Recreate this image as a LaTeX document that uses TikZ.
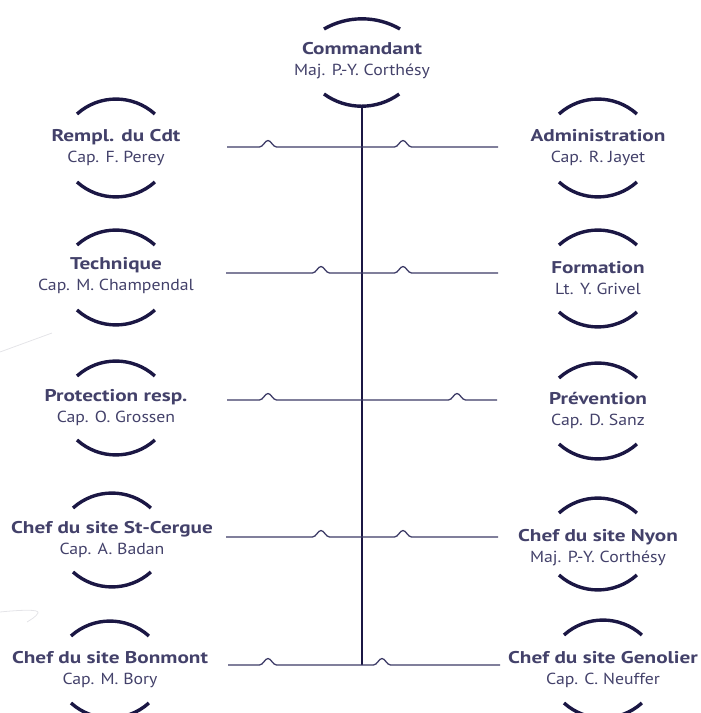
\documentclass[tikz,border=0pt]{standalone}
\usepackage{fontspec}
\setmainfont{PT Sans}[FakeStretch=1.11]
\newfontfamily\titlefont{PT Sans Bold}[FakeStretch=1.25]
\definecolor{txt}{HTML}{43416A}
\definecolor{arcc}{HTML}{1B1744}
\definecolor{lnc}{HTML}{3C3A66}
\definecolor{faint}{HTML}{E4E4E8}
\newcommand\ttl[1]{{\titlefont\fontsize{17}{21}\selectfont #1}}
\tikzset{
  org/.style={align=center, text=txt, inner sep=0pt, font=\fontsize{16}{21}\selectfont},
  arcline/.style={draw=arcc, line width=3.4pt},
  hline/.style={draw=lnc, line width=1.3pt},
  vline/.style={draw=arcc, line width=1.6pt},
}
\newcommand\hopx[2]{-- ({#1-8.5},#2) .. controls ({#1-5},#2) and ({#1-3},{#2+6.5}) .. (#1,{#2+6.5}) .. controls ({#1+3},{#2+6.5}) and ({#1+5},#2) .. ({#1+8.5},#2)}
\newcommand\arcpair[3]{%
  \draw[arcline] ([xshift=-39pt,yshift={#2pt-15pt}]#1.center) arc[start angle=132,end angle=48,radius=58.2pt];
  \draw[arcline] ([xshift=-39pt,yshift={-#3pt+15pt}]#1.center) arc[start angle=228,end angle=312,radius=58.2pt];}
\begin{document}
\begin{tikzpicture}[x=1pt,y=1pt]
\useasboundingbox (0,0) rectangle (701,713);
% faint marks
\draw[faint, line width=0.8pt] (0,361) -- (52,380);
\draw[faint, line width=0.8pt] (0,101) .. controls (20,103) and (40,104) .. (38,100) .. controls (36,96) and (30,93) .. (27,91);
% nodes
\node[org] (cmd) at (362,652) {\ttl{Commandant}\\Maj. P.-Y. Corthésy};
\node[org] (l1) at (116,565) {\ttl{Rempl. du Cdt}\\Cap. F. Perey};
\node[org] (r1) at (598,565) {\ttl{Administration}\\Cap. R. Jayet};
\node[org] (l2) at (116,437) {\ttl{Technique}\\Cap. M. Champendal};
\node[org] (r2) at (598,435) {\ttl{Formation}\\Lt. Y. Grivel};
\node[org] (l3) at (116,305) {\ttl{Protection resp.}\\Cap. O. Grossen};
\node[org] (r3) at (598,303) {\ttl{Prévention}\\Cap. D. Sanz};
\node[org] (l4) at (112,173) {\ttl{Chef du site St-Cergue}\\Cap. A. Badan};
\node[org] (r4) at (598,165) {\ttl{Chef du site Nyon}\\Maj. P.-Y. Corthésy};
\node[org] (l5) at (110,43) {\ttl{Chef du site Bonmont}\\Cap. M. Bory};
\node[org] (r5) at (603,43) {\ttl{Chef du site Genolier}\\Cap. C. Neuffer};
% arcs
\draw[arcline] ([xshift=-38pt,yshift=32pt]cmd.center) arc[start angle=120,end angle=60,radius=76pt];
\draw[arcline] ([xshift=-38pt,yshift=-33pt]cmd.center) arc[start angle=234,end angle=306,radius=64pt];
\arcpair{l1}{49}{49}
\arcpair{r1}{49}{49}
\arcpair{l2}{46}{49}
\arcpair{r2}{48}{49}
\arcpair{l3}{47}{47}
\arcpair{r3}{47}{49}
\arcpair{l4}{47}{47}
\arcpair{r4}{50}{42}
\arcpair{l5}{49}{48}
\arcpair{r5}{50}{48}
% connectors
\coordinate (v0) at (362,605);
\coordinate (v1) at (362,48);
\draw[vline] (v0) -- (v1);
\coordinate (a1) at (227,566); \coordinate (b1) at (498,566);
\coordinate (a2) at (226,440); \coordinate (b2) at (498,440);
\coordinate (a3) at (227,313); \coordinate (b3) at (497,313);
\coordinate (a4) at (226,176); \coordinate (b4) at (498,176);
\coordinate (a5) at (228,48);  \coordinate (b5) at (500,48);
\draw[hline] (a1) \hopx{268}{566} \hopx{403}{566} -- (b1);
\draw[hline] (a2) \hopx{321}{440} \hopx{403}{440} -- (b2);
\draw[hline] (a3) \hopx{268}{313} \hopx{457}{313} -- (b3);
\draw[hline] (a4) \hopx{321}{176} \hopx{403}{176} -- (b4);
\draw[hline] (a5) \hopx{268}{48} \hopx{382}{48} -- (b5);
\end{tikzpicture}
\end{document}
